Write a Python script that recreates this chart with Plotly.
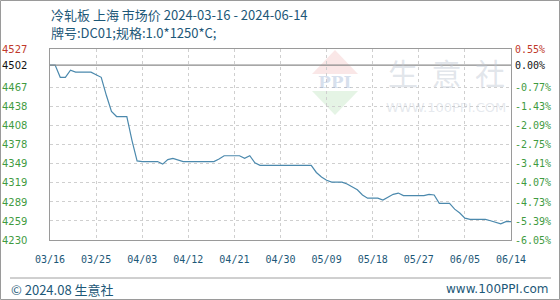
import plotly.graph_objects as go
import pandas as pd

# ---- data ----
start_date = "2024-03-16"
end_date = "2024-06-14"
prices = [
    4502, 4502, 4483, 4483, 4494, 4491, 4491, 4491, 4491, 4487,
    4483, 4455, 4430, 4422, 4422, 4422, 4385, 4353, 4352, 4352,
    4352, 4352, 4348, 4355, 4357, 4354, 4352, 4352, 4352, 4352,
    4352, 4352, 4352, 4356, 4361, 4361, 4361, 4361, 4357, 4361,
    4350, 4346, 4346, 4346, 4346, 4346, 4346, 4346, 4346, 4346,
    4346, 4346, 4335, 4328, 4323, 4320, 4320, 4320, 4317, 4313,
    4308, 4300, 4295, 4295, 4295, 4292, 4297, 4301, 4303, 4299,
    4299, 4299, 4299, 4299, 4301, 4300, 4287, 4287, 4287, 4278,
    4272, 4264, 4262, 4262, 4262, 4262, 4260, 4257, 4255, 4258.5,
    4258.5,
]
dates = pd.date_range(start_date, periods=len(prices), freq="D")
base_price = 4502
left_tick_values = [4527, 4502, 4467, 4438, 4408, 4378, 4349, 4319, 4289, 4259, 4230]
right_tick_labels = ["0.55%", "0.00%", "-0.77%", "-1.43%", "-2.09%", "-2.75%",
                     "-3.41%", "-4.07%", "-4.73%", "-5.39%", "-6.05%"]
grid_values = [4230 + 29.7 * k for k in range(9)]  # 4230 .. 4467.6
x_tick_dates = pd.date_range(start_date, end_date, freq="9D")
x_tick_text = [d.strftime("%m/%d") for d in x_tick_dates]
title_line1 = "冷轧板 上海 市场价 2024-03-16 - 2024-06-14"
title_line2 = "牌号:DC01;规格:1.0*1250*C;"

# ---- layout constants ----
W, H = 560, 300
L, R, T, B = 50, 49, 49, 60
pw, ph = W - L - R, H - T - B


def px(x):
    return (x - L) / pw


def py(y):
    return (H - B - y) / ph


title_color = "#1d5878"
green = "#3f9b3f"
red = "#c0392b"

fig = go.Figure()

fig.add_trace(go.Scatter(
    x=dates, y=prices, mode="lines",
    line=dict(color="#4b89ad", width=1.2),
    hoverinfo="skip", showlegend=False,
))

# base price line
fig.add_trace(go.Scatter(
    x=[dates[0], dates[-1]], y=[base_price, base_price], mode="lines",
    line=dict(color="#8a8a8a", width=1.2), hoverinfo="skip", showlegend=False,
))

ymin, ymax = 4230, 4527

fig.update_layout(
    width=W, height=H,
    margin=dict(l=L, r=R, t=T, b=B),
    paper_bgcolor="white", plot_bgcolor="white",
    font=dict(family="DejaVu Sans Mono", size=10, color=title_color),
    xaxis=dict(
        type="date",
        range=[dates[0], dates[-1]],
        tickvals=list(x_tick_dates), ticktext=x_tick_text,
        showgrid=True, gridcolor="#cfcfcf", griddash="dot", gridwidth=1,
        showline=True, linecolor="#9a9a9a", linewidth=1, mirror=True,
        ticks="", ticklabelstandoff=10,
        tickfont=dict(family="DejaVu Sans Mono", size=10, color="#1d5878"),
        zeroline=False, fixedrange=True,
    ),
    yaxis=dict(
        range=[ymin, ymax],
        tickvals=grid_values, showticklabels=False,
        showgrid=True, gridcolor="#cfcfcf", griddash="dot", gridwidth=1,
        showline=True, linecolor="#9a9a9a", linewidth=1, mirror=True,
        ticks="", zeroline=False, fixedrange=True,
    ),
)

annotations = []
# left tick labels
for v in left_tick_values:
    c = red if v > base_price else ("#111111" if v == base_price else green)
    annotations.append(dict(
        x=px(29), xref="paper", y=v, yref="y", text=str(v),
        showarrow=False, xanchor="right", yanchor="middle",
        font=dict(family="DejaVu Sans", size=10, color=c),
    ))
# right tick labels
for v, t in zip(left_tick_values, right_tick_labels):
    c = red if v > base_price else ("#111111" if v == base_price else green)
    annotations.append(dict(
        x=px(513), xref="paper", y=v, yref="y", text=t,
        showarrow=False, xanchor="left", yanchor="middle",
        font=dict(family="DejaVu Sans Mono", size=10, color=c),
    ))

# titles
annotations.append(dict(x=px(49), y=py(15), xref="paper", yref="paper", text=title_line1,
                        showarrow=False, xanchor="left", yanchor="middle",
                        font=dict(family="Noto Sans CJK SC", size=13, color=title_color)))
annotations.append(dict(x=px(49), y=py(33), xref="paper", yref="paper", text=title_line2,
                        showarrow=False, xanchor="left", yanchor="middle",
                        font=dict(family="Noto Sans CJK SC", size=13, color=title_color)))
# footer
annotations.append(dict(x=px(9), y=py(289), xref="paper", yref="paper", text="© 2024.08 生意社",
                        showarrow=False, xanchor="left", yanchor="middle",
                        font=dict(family="Noto Sans CJK SC", size=13, color=title_color)))
annotations.append(dict(x=px(551), y=py(289), xref="paper", yref="paper", text="www.100PPI.com",
                        showarrow=False, xanchor="right", yanchor="middle",
                        font=dict(family="DejaVu Sans", size=12, color=title_color)))
# watermark
annotations.append(dict(x=px(446), y=py(72), xref="paper", yref="paper", text="生  意  社",
                        showarrow=False, xanchor="center", yanchor="middle",
                        font=dict(family="Noto Sans CJK SC", size=30, color="rgba(190,198,210,0.45)")))
annotations.append(dict(x=px(446), y=py(107), xref="paper", yref="paper", text="WWW.100PPI.COM",
                        showarrow=False, xanchor="center", yanchor="middle",
                        font=dict(family="DejaVu Sans", size=13, color="rgba(190,198,210,0.4)")))
annotations.append(dict(x=px(335), y=py(82), xref="paper", yref="paper", text="<b>PPI</b>",
                        showarrow=False, xanchor="center", yanchor="middle",
                        font=dict(family="DejaVu Serif", size=17, color="rgba(140,165,205,0.35)")))

fig.update_layout(annotations=annotations)

shapes = []
# logo diamond (top red, bottom green)
shapes.append(dict(type="path", xref="paper", yref="paper",
                   path=f"M {px(312)},{py(74)} L {px(335)},{py(50)} L {px(358)},{py(74)} Z",
                   fillcolor="rgba(235,160,160,0.25)", line=dict(width=0), layer="below"))
shapes.append(dict(type="path", xref="paper", yref="paper",
                   path=f"M {px(312)},{py(91)} L {px(335)},{py(115)} L {px(358)},{py(91)} Z",
                   fillcolor="rgba(150,210,150,0.25)", line=dict(width=0), layer="below"))
# separator line above footer
shapes.append(dict(type="line", xref="paper", yref="paper",
                   x0=px(10), x1=px(551), y0=py(278), y1=py(278),
                   line=dict(color="#a0a0a0", width=1)))
# outer frame
shapes.append(dict(type="rect", xref="paper", yref="paper",
                   x0=px(0.5), x1=px(559.5), y0=py(0.5), y1=py(299.5),
                   line=dict(color="#9a9a9a", width=1)))
fig.update_layout(shapes=shapes)

fig.write_html("out.html")
